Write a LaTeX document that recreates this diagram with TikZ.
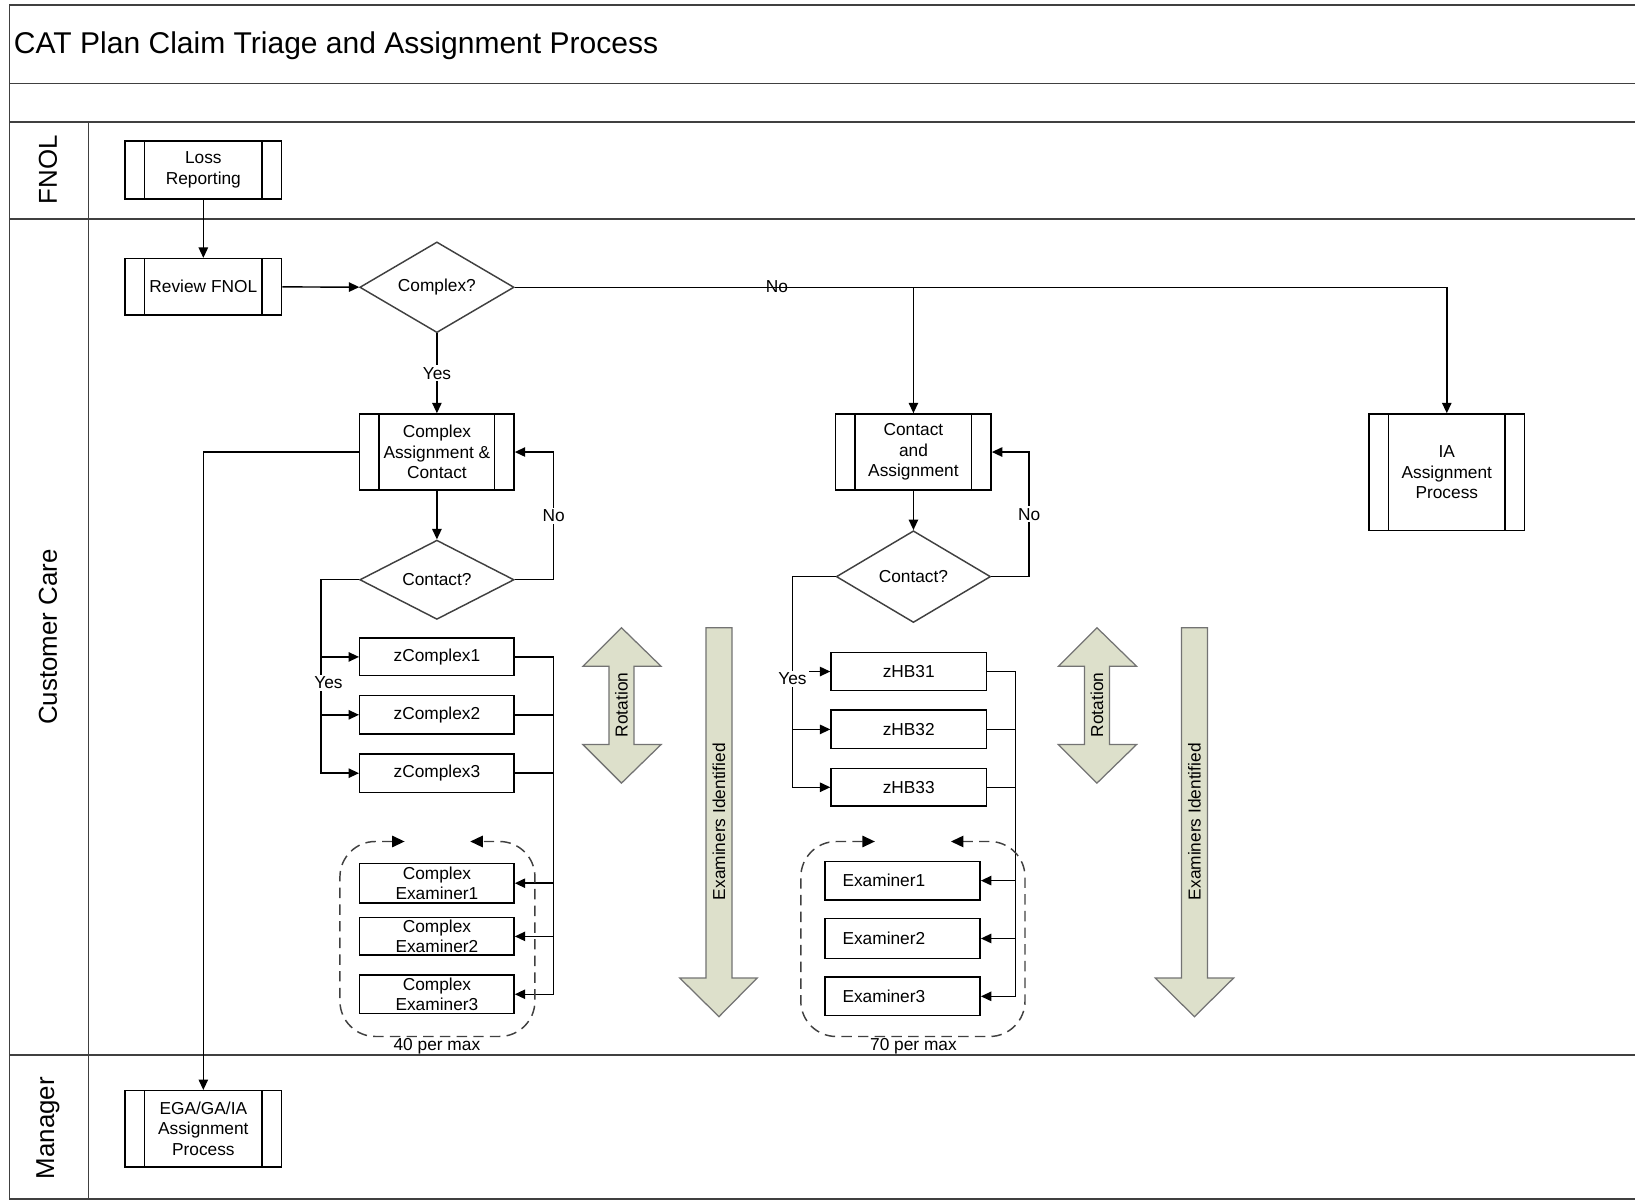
\documentclass[tikz,border=0pt]{standalone}
\usepackage{fontspec}
\setmainfont{Liberation Sans}
\usetikzlibrary{shapes.geometric,arrows.meta,calc}
\definecolor{arrowfill}{RGB}{221,224,203}
\begin{document}
\begin{tikzpicture}[x=0.5pt,y=-0.5pt,
  font=\fontsize{8.3}{9.8}\selectfont,
  frame/.style={draw=black!75,line width=0.8pt},
  box/.style={draw,line width=0.7pt,inner sep=1pt,align=center},
  pproc/.style={box,path picture={
     \draw[line width=0.7pt] ($(path picture bounding box.north west)+(9.3pt,0)$) -- ($(path picture bounding box.south west)+(9.3pt,0)$);
     \draw[line width=0.7pt] ($(path picture bounding box.north east)+(-9.3pt,0)$) -- ($(path picture bounding box.south east)+(-9.3pt,0)$);}},
  dec/.style={diamond,draw=black!75,line width=0.7pt,inner sep=0pt,aspect=1.7},
  arr/.style={line width=0.7pt,-{Triangle[length=5pt,width=4.5pt]}},
  conn/.style={line width=0.7pt},
  lbl/.style={fill=white,inner sep=1pt},
  bigarrow/.style={draw=black!55,fill=arrowfill,line width=0.6pt},
  dashbox/.style={draw=black!75,line width=0.7pt,dash pattern=on 5pt off 3pt,rounded corners=17pt,
     {Triangle[length=6pt,width=5.5pt,black]}-{Triangle[length=6pt,width=5.5pt,black]}},
  lane/.style={rotate=90,font=\fontsize{12.4}{14}\selectfont}
]
\useasboundingbox (0,0) rectangle (1568,1152);
% frame
\draw[frame] (1568,5) -- (9,5) -- (9,1150) -- (1568,1150);
\draw[frame] (9,80) -- (1568,80);
\draw[frame] (9,117) -- (1568,117);
\draw[frame] (9,210) -- (1568,210);
\draw[frame] (9,1012) -- (1568,1012);
\draw[frame] (85,117) -- (85,1150);
\node[anchor=west,inner sep=0pt,font=\fontsize{14.4}{17}\selectfont] (title) at (13,44) {CAT Plan Claim Triage and Assignment Process};
\node[lane] (lfnol) at (46,163) {FNOL};
\node[lane] (lcc) at (46,611) {Customer Care};
\node[lane] (lman) at (46,1082) {Manager};

% nodes
\node[pproc,minimum width=75pt,minimum height=28pt] (loss) at (195,163) {Loss\\Reporting};
\node[pproc,minimum width=75pt,minimum height=27pt] (rev) at (195,275) {Review FNOL};
\node[dec,minimum width=74pt,minimum height=43.5pt] (cx) at (419,275.5) {Complex?};
\node[pproc,minimum width=74pt,minimum height=36.5pt] (cac) at (419,433.5) {Complex\\Assignment \&\\Contact};
\node[dec,minimum width=74pt,minimum height=38pt] (ct1) at (419,556) {Contact?};
\node[box,minimum width=74pt,minimum height=18pt] (zc1) at (419,630) {zComplex1};
\node[box,minimum width=74pt,minimum height=18.5pt] (zc2) at (419,685.5) {zComplex2};
\node[box,minimum width=74pt,minimum height=18.5pt] (zc3) at (419,741.5) {zComplex3};
\node[box,minimum width=74pt,minimum height=19pt,inner sep=0pt] (cex1) at (419,847) {Complex\\Examiner1};
\node[box,minimum width=74pt,minimum height=18pt,inner sep=0pt] (cex2) at (419,898) {Complex\\Examiner2};
\node[box,minimum width=74pt,minimum height=18.5pt,inner sep=0pt] (cex3) at (419,953.5) {Complex\\Examiner3};

\node[pproc,minimum width=74.5pt,minimum height=36.5pt] (ca) at (876,433.5) {Contact\\and\\Assignment};
\node[dec,minimum width=74pt,minimum height=44pt] (ct2) at (876,553) {Contact?};
\node[box,minimum width=74.5pt,minimum height=18pt] (hb1) at (871.5,644) {zHB31};
\node[box,minimum width=74.5pt,minimum height=18.5pt] (hb2) at (871.5,699.5) {zHB32};
\node[box,minimum width=74.5pt,minimum height=18pt] (hb3) at (871.5,755) {zHB33};
\node[box,inner xsep=8.5pt,text width=57.5pt,align=left,minimum height=18.5pt] (ex1) at (865.5,844.5) {Examiner1};
\node[box,inner xsep=8.5pt,text width=57.5pt,align=left,minimum height=19pt] (ex2) at (865.5,900) {Examiner2};
\node[box,inner xsep=8.5pt,text width=57.5pt,align=left,minimum height=18.5pt] (ex3) at (865.5,955.5) {Examiner3};

\node[pproc,minimum width=74.5pt,minimum height=56pt] (ia) at (1387.5,453) {IA\\Assignment\\Process};
\node[pproc,minimum width=75pt,minimum height=36.5pt] (ega) at (195,1082.5) {EGA/GA/IA\\Assignment\\Process};

% connectors
\draw[arr] (loss) -- (rev);
\draw[arr] (rev) -- (cx);
\draw[arr] (cx) -- node[lbl] (yes0) {Yes} (cac);
\draw[arr] (cx.east) -| (ia.north);
\draw[arr] (cx.east -| ca.north) -- (ca.north);
\node[inner sep=0pt] (no0) at (745,275) {No};
\draw[arr] (cac.west) -| (ega.north);
\draw[arr] (cac) -- (ct1);
\draw[arr] (ca) -- (ct2);

\coordinate (nl) at (531,0);
\draw[arr] (ct1.east) -- (ct1.east -| nl) -- node[lbl] (no1) {No} (cac.east -| nl) -- (cac.east);
\coordinate (nr) at (987,0);
\draw[arr] (ct2.east) -- (ct2.east -| nr) -- node[lbl] (no2) {No} (ca.east -| nr) -- (ca.east);

\coordinate (yl) at (308,0);
\draw[arr] (ct1.west) -- (ct1.west -| yl) |- (zc3.west);
\draw[arr] (yl |- zc1.west) -- (zc1.west);
\draw[arr] (yl |- zc2.west) -- (zc2.west);
\node[lbl] (yes1) at (315,655) {Yes};

\coordinate (yr) at (760,0);
\draw[arr] (ct2.west) -- (ct2.west -| yr) |- (hb3.west);
\draw[arr] (yr |- hb2.west) -- (hb2.west);
\node[lbl] (yes2) at (760,651) {Yes};
\draw[arr] (yes2.east |- hb1.west) -- (hb1.west);

\coordinate (bl) at (531,0);
\draw[arr] (zc1.east) -- (zc1.east -| bl) |- (cex3.east);
\draw[conn] (zc2.east) -- (zc2.east -| bl);
\draw[conn] (zc3.east) -- (zc3.east -| bl);
\draw[arr] (bl |- cex1.east) -- (cex1.east);
\draw[arr] (bl |- cex2.east) -- (cex2.east);

\coordinate (br) at (974,0);
\draw[arr] (hb1.east) -- (hb1.east -| br) |- (ex3.east);
\draw[conn] (hb2.east) -- (hb2.east -| br);
\draw[conn] (hb3.east) -- (hb3.east -| br);
\draw[arr] (br |- ex1.east) -- (ex1.east);
\draw[arr] (br |- ex2.east) -- (ex2.east);

% dashed groups
\draw[dashbox] (388,807) -- (326,807) -- (326,994) -- (513,994) -- (513,807) -- (451,807);
\node (max40) at (419,1003) {40 per max};
\draw[dashbox] (839,807) -- (768,807) -- (768,994) -- (983,994) -- (983,807) -- (912,807);
\node (max70) at (876,1003) {70 per max};

% big arrows
\draw[bigarrow] (596,602) -- (634,639) -- (608,639) -- (608,714) -- (634,714) -- (596,751) -- (559,714) -- (584,714) -- (584,639) -- (559,639) -- cycle;
\node[rotate=90] (rot1) at (596,676) {Rotation};
\draw[bigarrow] (1052,602) -- (1090,639) -- (1064,639) -- (1064,714) -- (1090,714) -- (1052,751) -- (1015,714) -- (1040,714) -- (1040,639) -- (1015,639) -- cycle;
\node[rotate=90] (rot2) at (1052,676) {Rotation};
\draw[bigarrow] (677,602) -- (702,602) -- (702,938) -- (726,938) -- (689.5,975) -- (652,938) -- (677,938) -- cycle;
\node[rotate=90] (exi1) at (689.5,788) {Examiners Identified};
\draw[bigarrow] (1133,602) -- (1158,602) -- (1158,938) -- (1183,938) -- (1145.5,975) -- (1108,938) -- (1133,938) -- cycle;
\node[rotate=90] (exi2) at (1145.5,788) {Examiners Identified};
\end{tikzpicture}
\end{document}
